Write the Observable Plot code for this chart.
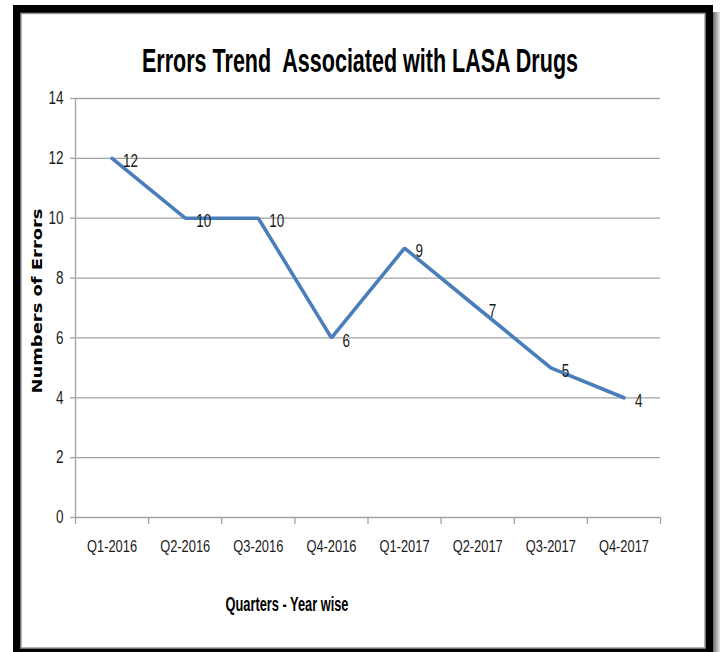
<!DOCTYPE html>
<html>
<head>
<meta charset="utf-8">
<script src="https://cdn.jsdelivr.net/npm/d3@7"></script>
<script src="https://cdn.jsdelivr.net/npm/@observablehq/plot@0.6"></script>
<style>
  html, body { margin: 0; padding: 0; background: #fff; }
  #wrap { position: relative; width: 720px; height: 652px; overflow: hidden; }
  #wrap svg { position: absolute; left: 0; top: 0; }
</style>
</head>
<body>
<div id="wrap">
  <svg id="deco" width="720" height="652" xmlns="http://www.w3.org/2000/svg">
    <defs>
      <linearGradient id="shR" x1="0" x2="1" y1="0" y2="0">
        <stop offset="0" stop-color="#6a6a6a"/>
        <stop offset="1" stop-color="#e8e8e8"/>
      </linearGradient>
    </defs>
    <rect x="713" y="12" width="7" height="650" fill="url(#shR)"/>
    <rect x="13" y="5" width="700" height="660" fill="#000"/>
    <rect x="21" y="13.5" width="684" height="634.5" fill="#fff" stroke="#9a9a9a" stroke-width="1.5"/>
    <text id="title" x="360" y="72" text-anchor="middle" style="white-space:pre" font-family="'Liberation Sans Narrow','Liberation Sans',sans-serif"
      font-weight="bold" font-size="33" fill="#000" textLength="436" lengthAdjust="spacingAndGlyphs">Errors Trend  Associated with LASA Drugs</text>
    <text transform="translate(42,301) rotate(-90)" text-anchor="middle" font-family="'DejaVu Sans',sans-serif"
      font-weight="bold" font-size="14" fill="#000" textLength="185" lengthAdjust="spacingAndGlyphs">Numbers of Errors</text>
    <text x="287" y="611" text-anchor="middle" style="font-size:20px" font-family="'Liberation Sans Narrow','Liberation Sans',sans-serif"
      font-weight="bold" fill="#000" textLength="123" lengthAdjust="spacingAndGlyphs">Quarters - Year wise</text>
  </svg>
</div>
<script>
const quarters = ["Q1-2016", "Q2-2016", "Q3-2016", "Q4-2016", "Q1-2017", "Q2-2017", "Q3-2017", "Q4-2017"];
const errors = [12, 10, 10, 6, 9, 7, 5, 4];
const yTicks = [0, 2, 4, 6, 8, 10, 12, 14];
const xBoundaries = [0, 1, 2, 3, 4, 5, 6, 7, 8];

const data = quarters.map((q, i) => ({quarter: q, pos: i + 0.5, value: errors[i]}));

const grid = "#a3a3a3";
const chart = Plot.plot({
  width: 720,
  height: 652,
  marginLeft: 75,
  marginRight: 60,
  marginTop: 98,
  marginBottom: 135,
  style: {fontFamily: "'Liberation Sans Narrow','Liberation Sans',sans-serif", color: "#1a1a1a", background: "transparent"},
  x: {domain: [0, 8], axis: null},
  y: {domain: [0, 14], axis: null},
  marks: [
    Plot.gridY(yTicks, {stroke: grid, strokeOpacity: 1, strokeWidth: 1.3}),
    Plot.ruleX([0], {stroke: grid, strokeWidth: 1.3}),
    Plot.axisX(xBoundaries, {tickSize: 7, tickFormat: () => "", stroke: grid, strokeWidth: 1.3, label: null}),
    Plot.axisX(data.map(d => d.pos), {tickSize: 0, tickPadding: 22, fontSize: 17, label: null,
      tickFormat: p => quarters[Math.round(p - 0.5)]}),
    Plot.axisY(yTicks, {tickSize: 5, tickPadding: 7, fontSize: 18, stroke: grid, strokeWidth: 1.3, label: null}),
    Plot.line(data, {x: "pos", y: "value", stroke: "#4a7ebb", strokeWidth: 3.6, strokeLinejoin: "miter"}),
    Plot.text(data, {x: "pos", y: "value", text: d => String(d.value), textAnchor: "start", dx: 11, dy: 3, fontSize: 18, fill: "#1a1a1a"})
  ]
});
document.getElementById("wrap").appendChild(chart);

const xl = Array.from(chart.querySelectorAll('g[aria-label="x-axis tick label"] text')).filter(t => t.textContent.length > 0);
const yl = Array.from(chart.querySelectorAll('g[aria-label="y-axis tick label"] text'));
const dl = Array.from(chart.querySelectorAll('g[aria-label="text"] text'));

xl.forEach(t => { t.style.fontSize = "17px"; });
yl.forEach(t => { t.style.fontSize = "18px"; });
dl.forEach(t => { t.style.fontSize = "18px"; });

// condense text horizontally to match the narrow face of the reference
function squish(nodes, k) {
  nodes.forEach(t => {
    const w = t.getComputedTextLength();
    if (w > 0) {
      t.setAttribute("textLength", (w * k).toFixed(2));
      t.setAttribute("lengthAdjust", "spacingAndGlyphs");
    }
  });
}
if (xl.length) squish(xl, 50 / xl[0].getComputedTextLength());
const y14 = yl.find(t => t.textContent === "14");
if (y14) {
  const k = 15 / y14.getComputedTextLength();
  squish(yl, k);
  squish(dl, k);
}
</script>
</body>
</html>
